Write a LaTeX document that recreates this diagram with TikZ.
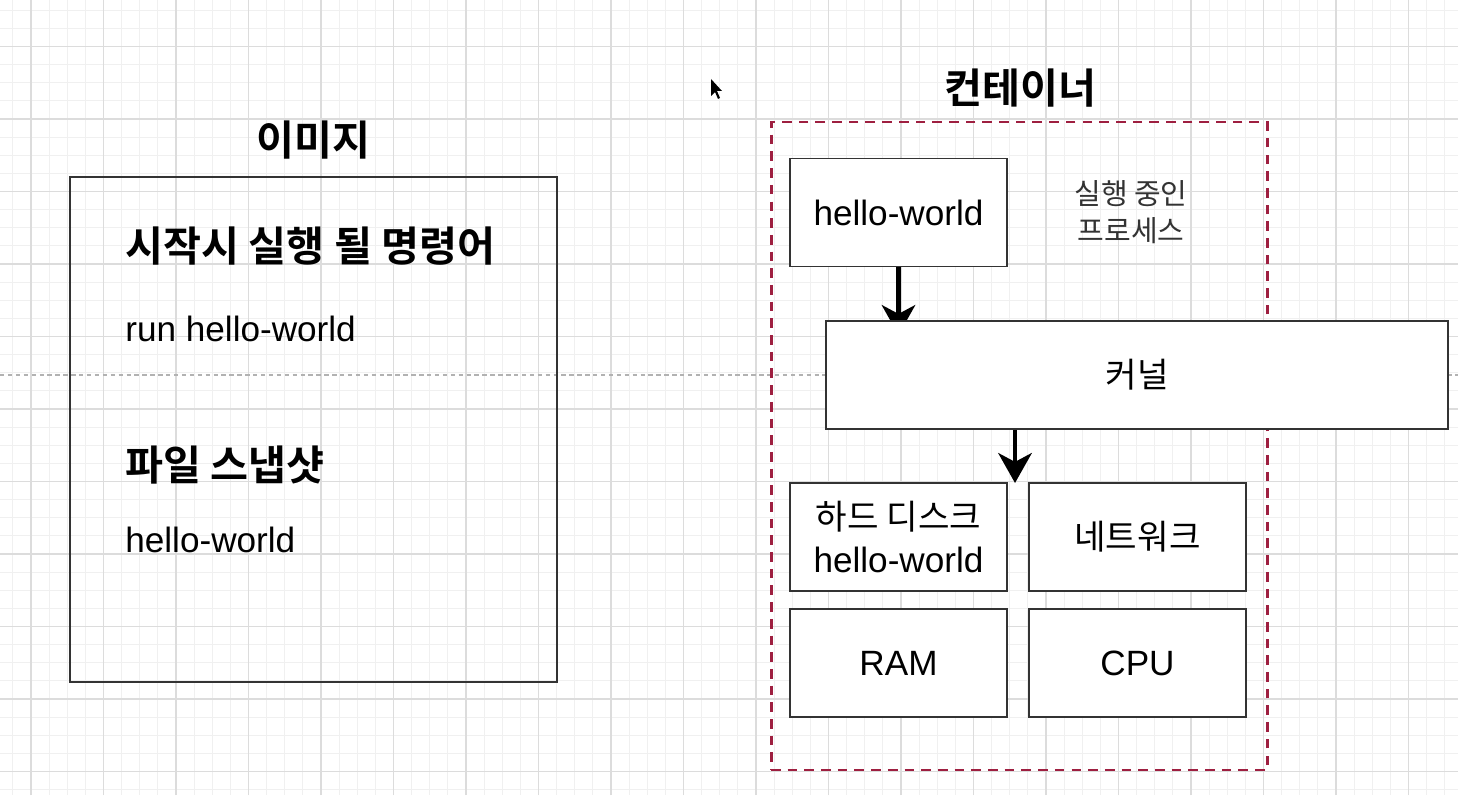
\documentclass[tikz,border=0pt]{standalone}
\usepackage{fontspec}
\setmainfont{Liberation Sans}
\newfontfamily\krfont{Noto Sans CJK KR}[BoldFont={Noto Sans CJK KR Bold}]
\usepackage{tikz}
\usetikzlibrary{positioning}
\usetikzlibrary{arrows.meta}
\definecolor{gridminor}{HTML}{F0F0F0}
\definecolor{gridmajor}{HTML}{DCDCDC}
\definecolor{crimsonedge}{HTML}{9E1F40}
\definecolor{boxedge}{HTML}{333333}
\tikzstyle{minorline} = [gridminor, line width=0.6pt]
\tikzstyle{majorline} = [gridmajor, line width=0.7pt]
\tikzstyle{pagebreak} = [draw=black!30, line width=0.6pt, dash pattern=on 2.5pt off 2pt]
\tikzstyle{cell} = [draw=boxedge, line width=0.9pt, fill=white, minimum width=4.34cm, minimum height=2.16cm, align=center, inner sep=0pt, font=\fontsize{20}{24}\selectfont]
\tikzstyle{krcell} = [cell, font=\krfont\fontsize{19.5}{24}\selectfont]
\tikzstyle{heading} = [inner sep=0pt, font=\krfont\bfseries\fontsize{23.5}{28}\selectfont]
\tikzstyle{plain} = [inner sep=0pt, font=\fontsize{20}{24}\selectfont]
\tikzstyle{arrow} = [line width=2.6pt, -{Stealth[length=17pt, width=19pt, inset=5pt]}]

\begin{document}
\begin{tikzpicture}
\useasboundingbox (0,0) rectangle (29.16,15.9);
\clip (0,0) rectangle (29.16,15.9);
\fill[white] (0,0) rectangle (29.16,15.9);
% grid
\foreach \i in {0,...,80} \draw[minorline] (0.2575+0.3625*\i,0) -- ++(0,15.9);
\foreach \j in {0,...,44} \draw[minorline] (0,0.1075+0.3625*\j) -- ++(29.16,0);
\foreach \i in {0,...,19} \draw[majorline] (0.62+1.45*\i,0) -- ++(0,15.9);
\foreach \j in {0,...,10} \draw[majorline] (0,14.97-1.45*\j) -- ++(29.16,0);
\coordinate (pageleft) at (0,8.40);
\coordinate (pageright) at (29.16,8.40);
\draw[pagebreak] (pageleft) -- (pageright);
% mouse pointer
\fill[black] (14.22,14.32) -- (14.22,13.98) -- (14.30,14.06) -- (14.36,13.92) -- (14.40,13.94) -- (14.34,14.08) -- (14.44,14.08) -- cycle;

% image
\node[heading] (imagetitle) at (6.26,13.10) {이미지};
\node[draw=boxedge, line width=0.9pt, minimum width=9.74cm, minimum height=10.10cm] (imagebox) at (6.27,7.31) {};
\node[heading, anchor=west] (cmdhead) at (2.50,10.98) {시작시 실행 될 명령어};
\node[plain, anchor=west] (cmd) at (2.50,9.32) {run hello-world};
\node[heading, anchor=west] (snaphead) at (2.50,6.60) {파일 스냅샷};
\node[plain, anchor=west] (snap) at (2.50,5.10) {hello-world};

% container
\node[heading] (containertitle) at (20.40,14.14) {컨테이너};
\node[draw=crimsonedge, line width=1.7pt, dash pattern=on 5.5pt off 4pt, minimum width=9.92cm, minimum height=12.96cm] (container) at (20.38,6.98) {};
\node[cell] (hello) at (17.97,11.65) {hello-world};
\node[align=center, text=black!80, font=\krfont\fontsize{16.5}{21}\selectfont] (proc) at (22.62,11.66) {실행 중인\\프로세스};
\coordinate (hellotip) at (17.97,9.20);
\draw[arrow] (hello) -- (hellotip);
\node[krcell, minimum width=12.44cm] (kernel) at (22.74,8.40) {커널};
\node[cell] (disk) at (17.97,5.16) {{\krfont\fontsize{19.5}{24}\selectfont 하드 디스크}\\hello-world};
\node[krcell] (network) at (22.75,5.16) {네트워크};
\node[cell] (ram) at (17.97,2.64) {RAM};
\node[cell] (cpu) at (22.75,2.64) {CPU};
\coordinate (disktop) at (20.30,6.24);
\draw[arrow] (kernel.south -| disktop) -- (disktop);
\end{tikzpicture}
\end{document}
